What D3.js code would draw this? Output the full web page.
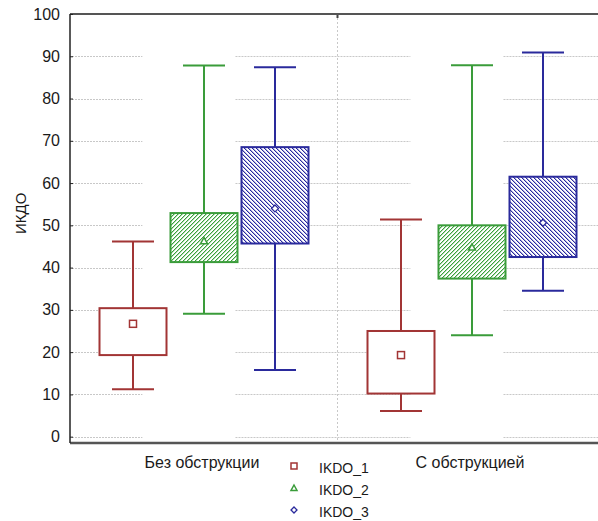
<!DOCTYPE html>
<html lang="ru">
<head>
    <meta charset="utf-8">
    <script src="https://d3js.org/d3.v7.min.js"></script>
    <style>
        body { margin: 0; background: #fff; }
        text { font-family: "Liberation Sans", Arial, sans-serif; fill: #1a1a1a; }
    </style>
</head>
<body>
    <svg></svg>
    <script>
        // groups on the x axis and the three variables
        const groups = ['Без обструкции', 'С обструкцией']
        const series = ['IKDO_1', 'IKDO_2', 'IKDO_3']
        const yTicks = [0, 10, 20, 30, 40, 50, 60, 70, 80, 90, 100]

        // values per series, one per group
        const maxVals  = [[46.2, 51.4], [87.8, 87.9], [87.4, 90.9]]
        const q3Vals   = [[30.4, 25.0], [52.9, 50.0], [68.5, 61.5]]
        const meanVals = [[26.7, 19.3], [46.3, 44.8], [54.0, 50.6]]
        const q1Vals   = [[19.3, 10.2], [41.3, 37.4], [45.7, 42.5]]
        const minVals  = [[11.2, 6.1],  [29.1, 24.0], [15.8, 34.5]]

        const colors = ['#a23535', '#3a9c3a', '#2a2a9c']
        const fills = ['#fff', 'url(#hatchGreen)', 'url(#hatchBlue)']

        const W = 598, H = 521
        const plotLeft = 70, plotTop = 14, plotBottom = 443, plotRight = 606

        const svg = d3.select('svg')
            .attr('width', W)
            .attr('height', H)

        // hatch patterns, drawn pixel by pixel so they stay crisp
        const defs = svg.append('defs')
        function hatch(id, color, soft, dir) {
            const p = defs.append('pattern')
                .attr('id', id)
                .attr('patternUnits', 'userSpaceOnUse')
                .attr('width', 4).attr('height', 4)
            p.append('rect').attr('width', 4).attr('height', 4).attr('fill', '#fff')
            for (let k = 0; k < 4; k++) {
                const px = dir > 0 ? 3 - k : k
                p.append('rect')
                    .attr('x', (px + 1) % 4).attr('y', k)
                    .attr('width', 1).attr('height', 1)
                    .attr('fill', soft)
                    .attr('shape-rendering', 'crispEdges')
                p.append('rect')
                    .attr('x', px).attr('y', k)
                    .attr('width', 1).attr('height', 1)
                    .attr('fill', color)
                    .attr('shape-rendering', 'crispEdges')
            }
        }
        hatch('hatchGreen', '#3aa03a', '#b4dcb4', 1)
        hatch('hatchBlue', '#2a2aa0', '#b0b0dc', -1)

        const x0 = d3.scaleBand()
            .domain(groups)
            .range([plotLeft, plotRight])
        const x1 = d3.scalePoint()
            .domain(series)
            .range([-71, 71])
        const y = d3.scaleLinear()
            .domain([-1.5, 100])
            .range([plotBottom, plotTop])

        const boxW = 67
        const capW = 42

        // grid lines (broken in two places, like the original)
        const bw = x0.bandwidth()
        const segs = []
        let start = plotLeft
        for (const g of groups) {
            segs.push([start, x0(g) + bw * 0.27])
            start = x0(g) + bw * 0.61
        }
        segs.push([start, plotRight])

        const grid = svg.append('g')
        for (const t of yTicks) {
            for (const s of segs) {
                grid.append('line')
                    .attr('x1', s[0] + 2).attr('x2', s[1])
                    .attr('y1', Math.round(y(t)) + 0.5).attr('y2', Math.round(y(t)) + 0.5)
                    .attr('stroke', '#c8c8c8')
                    .attr('stroke-dasharray', '2,1')
            }
        }
        // divider between groups
        grid.append('line')
            .attr('x1', x0(groups[1]) - 0.5).attr('x2', x0(groups[1]) - 0.5)
            .attr('y1', plotTop).attr('y2', plotBottom)
            .attr('stroke', '#c8c8c8')
            .attr('stroke-dasharray', '2,2')
        grid.append('line')
            .attr('x1', x0(groups[1]) - 0.5).attr('x2', x0(groups[1]) - 0.5)
            .attr('y1', plotTop).attr('y2', plotTop + 4)
            .attr('stroke', '#444')
            .attr('stroke-width', 2)

        // boxes
        series.forEach((s, i) => {
            const g = svg.append('g')
            const cx = (gi) => x0(groups[gi]) + bw / 2 + x1(s)
            groups.forEach((grp, gi) => {
                const c = cx(gi)
                // whisker
                g.append('line')
                    .attr('x1', c).attr('x2', c)
                    .attr('y1', y(minVals[i][gi])).attr('y2', y(maxVals[i][gi]))
                    .attr('stroke', colors[i]).attr('stroke-width', 2)
                for (const v of [minVals[i][gi], maxVals[i][gi]]) {
                    g.append('line')
                        .attr('x1', c - capW / 2).attr('x2', c + capW / 2)
                        .attr('y1', y(v)).attr('y2', y(v))
                        .attr('stroke', colors[i]).attr('stroke-width', 2)
                }
                g.append('rect')
                    .attr('x', c - boxW / 2)
                    .attr('y', y(q3Vals[i][gi]))
                    .attr('width', boxW)
                    .attr('height', y(q1Vals[i][gi]) - y(q3Vals[i][gi]))
                    .attr('fill', fills[i])
                    .attr('stroke', colors[i])
                    .attr('stroke-width', 2)
                drawMarker(g, i, c, y(meanVals[i][gi]), 3.5)
            })
        })

        function drawMarker(sel, i, cx, cy, r) {
            if (i === 0) {
                sel.append('rect')
                    .attr('x', cx - r).attr('y', cy - r)
                    .attr('width', 2 * r).attr('height', 2 * r)
                    .attr('fill', '#fff').attr('stroke', colors[i]).attr('stroke-width', 1.5)
            } else if (i === 1) {
                sel.append('path')
                    .attr('d', `M${cx},${cy - r} L${cx + r},${cy + r * 0.8} L${cx - r},${cy + r * 0.8}Z`)
                    .attr('fill', '#fff').attr('stroke', colors[i]).attr('stroke-width', 1.5)
            } else {
                sel.append('path')
                    .attr('d', `M${cx},${cy - r} L${cx + r},${cy} L${cx},${cy + r} L${cx - r},${cy}Z`)
                    .attr('fill', '#fff').attr('stroke', colors[i]).attr('stroke-width', 1.3)
            }
        }

        // frame
        svg.append('line')
            .attr('x1', plotLeft).attr('x2', plotRight)
            .attr('y1', plotTop).attr('y2', plotTop)
            .attr('stroke', '#555').attr('stroke-width', 2)
        svg.append('line')
            .attr('x1', plotLeft).attr('x2', plotRight)
            .attr('y1', plotBottom).attr('y2', plotBottom)
            .attr('stroke', '#555').attr('stroke-width', 2.5)

        // y axis
        const yAxis = d3.axisLeft(y)
            .tickValues(yTicks)
            .tickSize(-3)
            .tickPadding(10)
        const ya = svg.append('g')
            .attr('transform', `translate(${plotLeft},0)`)
            .call(yAxis)
        ya.select('.domain')
            .attr('d', `M0,${plotTop}V${plotBottom}`)
            .attr('stroke', '#222').attr('stroke-width', 1.5)
        ya.selectAll('.tick line').attr('stroke', '#222')
        ya.selectAll('.tick text')
            .attr('font-size', 16)
            .attr('font-family', '"Liberation Sans", Arial, sans-serif')
            .attr('fill', '#1a1a1a')

        svg.append('text')
            .attr('transform', `translate(26,${y(50) - 12}) rotate(-90)`)
            .attr('text-anchor', 'middle')
            .attr('font-size', 15)
            .text('ИКДО')

        // category labels
        svg.selectAll('.cat')
            .data(groups)
            .enter()
            .append('text')
            .attr('class', 'cat')
            .attr('x', d => x0(d) + bw / 2 - 2)
            .attr('y', 468)
            .attr('text-anchor', 'middle')
            .attr('font-size', 16)
            .text(d => d)

        // legend
        const lg = svg.append('g')
        series.forEach((s, i) => {
            const yy = 466 + i * 22
            drawMarker(lg, i, 294, yy, 3)
            lg.append('text')
                .attr('x', 319)
                .attr('y', yy + 7)
                .attr('font-size', 14)
                .text(s)
        })
    </script>
</body>
</html>
